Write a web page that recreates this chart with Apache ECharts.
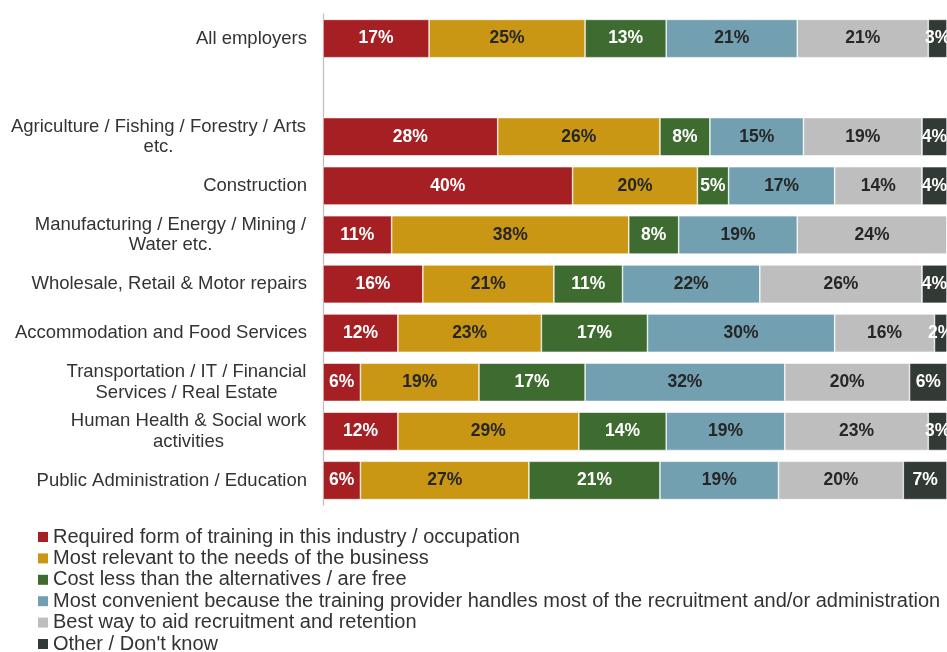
<!DOCTYPE html>
<html>
<head>
<meta charset="utf-8">
<script src="https://cdn.jsdelivr.net/npm/echarts@6/dist/echarts.min.js"></script>
<style>
  html, body { margin: 0; padding: 0; background: #fff; }
  #chart { width: 947px; height: 652px; }
</style>
</head>
<body>
<div id="chart"></div>
<script>
// Sectors (the blank entry leaves a gap under "All employers")
const categories = [
  'All employers',
  '',
  'Agriculture / Fishing / Forestry / Arts\netc.',
  'Construction',
  'Manufacturing / Energy / Mining /\nWater etc.',
  'Wholesale, Retail & Motor repairs',
  'Accommodation and Food Services',
  'Transportation / IT / Financial\nServices / Real Estate',
  'Human Health & Social work\nactivities',
  'Public Administration / Education'
];

const seriesNames = [
  'Required form of training in this industry / occupation',
  'Most relevant to the needs of the business',
  'Cost less than the alternatives / are free',
  'Most convenient because the training provider handles most of the recruitment and/or administration',
  'Best way to aid recruitment and retention',
  "Other / Don't know"
];

// Percentages per reason, one value per sector (null = gap row)
const requiredForm   = [17, null, 28, 40, 11, 16, 12, 6, 12, 6];
const mostRelevant   = [25, null, 26, 20, 38, 21, 23, 19, 29, 27];
const costLess       = [13, null, 8, 5, 8, 11, 17, 17, 14, 21];
const mostConvenient = [21, null, 15, 17, 19, 22, 30, 32, 19, 19];
const bestWay        = [21, null, 19, 14, 24, 26, 16, 20, 23, 20];
const otherDontKnow  = [3, null, 4, 4, 0, 4, 2, 6, 3, 7];

const seriesData = [requiredForm, mostRelevant, costLess, mostConvenient, bestWay, otherDontKnow];
const colors = ['#A51F23', '#C99714', '#3E6B30', '#72A0B1', '#BEBEBE', '#313A35'];
const labelColors = ['#ffffff', '#262626', '#ffffff', '#262626', '#262626', '#ffffff'];

const FONT = '"Liberation Sans", Arial, sans-serif';
const AXIS_SIZE = 18.5;

// Multi-line axis labels: centre the lines against each other, right-align the block
const measureCtx = document.createElement('canvas').getContext('2d');
measureCtx.font = AXIS_SIZE + 'px "Liberation Sans"';
const rich = {};
categories.forEach((c, i) => {
  const lines = c.split('\n');
  if (lines.length > 1) {
    const w = Math.max(...lines.map(l => measureCtx.measureText(l).width));
    rich['c' + i] = {
      width: Math.ceil(w) + 1, align: 'center',
      fontSize: AXIS_SIZE, fontFamily: FONT, color: '#333333', lineHeight: 20.5
    };
  }
});

const chart = echarts.init(document.getElementById('chart'), null, { renderer: 'canvas' });

chart.setOption({
  animation: false,
  color: colors,
  grid: { left: 323, right: -3, top: 14, bottom: 147, containLabel: false },
  xAxis: {
    type: 'value', min: 0, max: 100,
    show: false
  },
  yAxis: {
    type: 'category',
    data: categories,
    inverse: true,
    axisLine: { show: true, lineStyle: { color: '#BFBFBF', width: 1.3 } },
    axisTick: { show: false },
    axisLabel: {
      margin: 16,
      fontSize: AXIS_SIZE,
      fontFamily: FONT,
      color: '#333333',
      lineHeight: 20.5,
      rich: rich,
      formatter: function (value, index) {
        const lines = value.split('\n');
        if (lines.length > 1) {
          return lines.map(l => '{c' + index + '|' + l + '}').join('\n');
        }
        return value;
      }
    }
  },
  legend: {
    orient: 'vertical',
    left: 38,
    top: 527,
    height: 140,
    padding: 0,
    itemWidth: 10,
    itemHeight: 10,
    itemGap: 1.4,
    icon: 'rect',
    itemStyle: { borderWidth: 0 },
    textStyle: { fontSize: 20, fontFamily: FONT, color: '#333333' },
    data: seriesNames
  },
  series: seriesNames.map((name, k) => ({
    name: name,
    type: 'bar',
    stack: 'total',
    barCategoryGap: '22%',
    data: seriesData[k].map(v => (v === null ? '-' : v)),
    itemStyle: { color: colors[k], borderColor: '#ffffff', borderWidth: 0.6 },
    label: {
      show: true,
      position: 'inside',
      color: labelColors[k],
      fontSize: 17.5,
      fontWeight: 'bold',
      fontFamily: FONT,
      formatter: p => (p.value > 0 ? p.value + '%' : '')
    }
  }))
});
</script>
</body>
</html>
